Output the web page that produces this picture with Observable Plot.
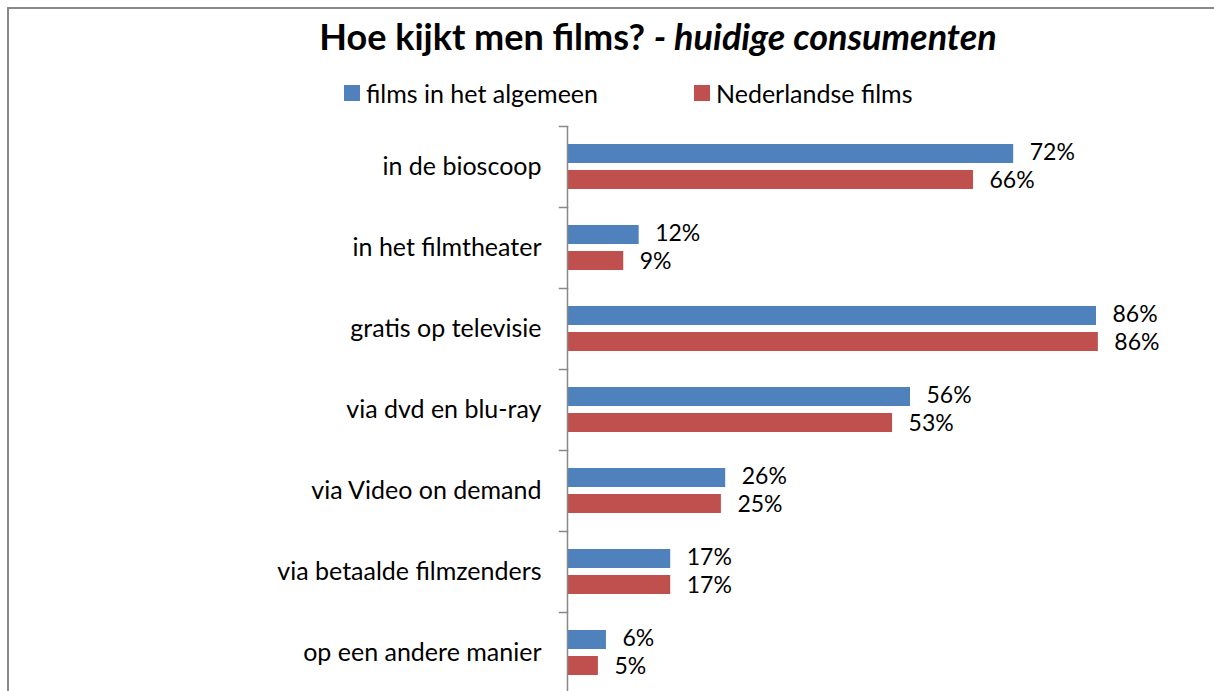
<!DOCTYPE html>
<html>
<head>
<meta charset="utf-8">
<script src="https://cdn.jsdelivr.net/npm/d3@7"></script>
<script src="https://cdn.jsdelivr.net/npm/@observablehq/plot@0.6"></script>
<style>
  html, body { margin: 0; padding: 0; background: #fff; overflow: hidden; }
  body { width: 1214px; height: 691px; position: relative; font-family: Lato, "Open Sans", sans-serif; color: #000; }
  #border { position: absolute; left: 7px; top: 7px; width: 1300px; height: 800px; border-left: 2px solid #888; border-top: 2px solid #888; }
  #title { position: absolute; left: 0; width: 1316px; top: 14px; text-align: center; font-weight: bold; font-size: 36px; white-space: nowrap; }
  #title i { font-style: italic; }
  .leg { position: absolute; top: 78px; font-size: 25px; white-space: nowrap; display: flex; align-items: center; }
  .sw { display: inline-block; width: 16px; height: 16px; margin-right: 6px; }
  #chart { position: absolute; left: 0; top: 124px; }
</style>
</head>
<body>
<div id="border"></div>
<div id="title">Hoe kijkt men films? <i>- huidige consumenten</i></div>
<div id="legend"></div>
<div id="chart"></div>
<script>
const categories = ["in de bioscoop", "in het filmtheater", "gratis op televisie", "via dvd en blu-ray", "via Video on demand", "via betaalde filmzenders", "op een andere manier"];
const seriesNames = ["films in het algemeen", "Nederlandse films"];
const seriesColors = ["#4F81BD", "#C0504D"];
const generalValues = [72.2, 11.6, 85.6, 55.5, 25.6, 16.7, 6.3];
const dutchValues = [65.7, 9.1, 85.9, 52.6, 24.9, 16.7, 5.0];

const data = [];
categories.forEach((c, i) => {
  data.push({category: c, series: seriesNames[0], value: generalValues[i]});
  data.push({category: c, series: seriesNames[1], value: dutchValues[i]});
});

// legend
const legend = document.getElementById("legend");
const legendLeft = [344, 694];
seriesNames.forEach((s, i) => {
  const d = document.createElement("div");
  d.className = "leg";
  d.style.left = legendLeft[i] + "px";
  d.innerHTML = `<span class="sw" style="background:${seriesColors[i]}"></span>${s}`;
  legend.appendChild(d);
});

const W = 1214, ML = 567, MR = 29;
const labelOpts = {fy: "category", y: "series", x: "value", text: d => Math.round(d.value) + "%", textAnchor: "start", dx: 16, fontSize: 23, fill: "#000"};
const chart = Plot.plot({
  width: W,
  height: 570,
  marginLeft: ML,
  marginRight: MR,
  marginTop: 0,
  marginBottom: 0,
  style: {fontFamily: "Lato, 'Open Sans', sans-serif", fontSize: "25px", color: "#000", background: "transparent", overflow: "visible"},
  x: {domain: [0, 100], axis: null},
  fy: {domain: categories, padding: 0, label: null, tickSize: 0, tickPadding: 26, axis: "left"},
  y: {domain: seriesNames, paddingInner: 0.26, paddingOuter: 0.638, axis: null},
  color: {domain: seriesNames, range: seriesColors},
  marks: [
    Plot.barX(data, {fy: "category", y: "series", x: "value", fill: "series"}),
    Plot.text(data.filter(d => d.series === seriesNames[0]), {...labelOpts, dy: -1}),
    Plot.text(data.filter(d => d.series === seriesNames[1]), {...labelOpts, dy: 1}),
    Plot.ruleX([0], {stroke: "#888", strokeWidth: 1.5}),
    Plot.frame({anchor: "top", stroke: "#888", strokeWidth: 1.5, insetLeft: -8, insetRight: W - ML - MR})
  ]
});
document.getElementById("chart").appendChild(chart);
</script>
</body>
</html>
